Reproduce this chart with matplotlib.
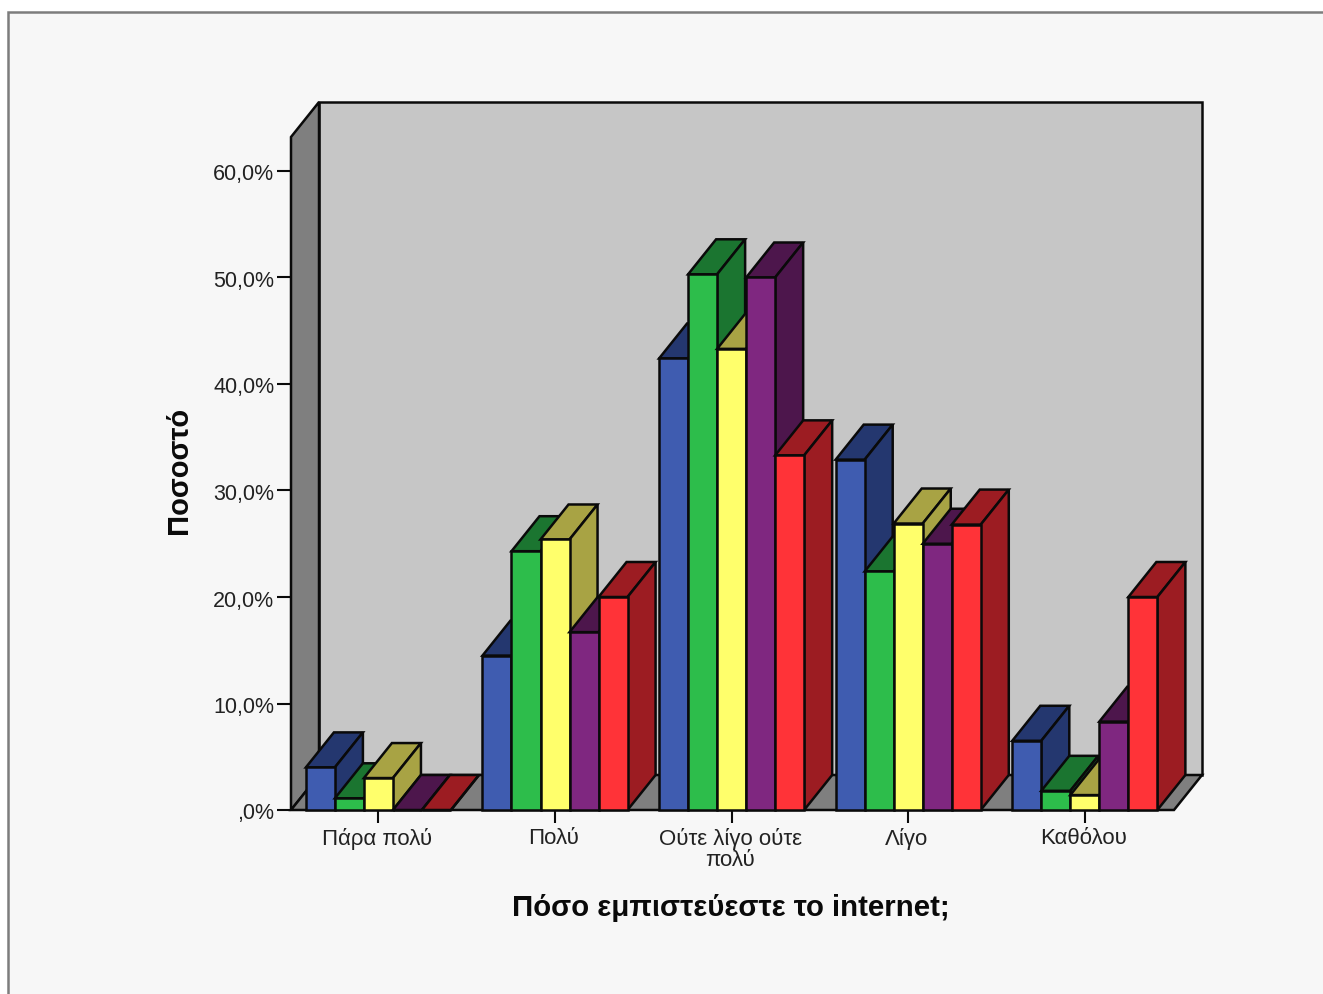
"""Clustered pseudo-3D bar chart: trust in the internet (SPSS style)."""
import matplotlib
matplotlib.use("Agg")
import matplotlib.pyplot as plt
from matplotlib.patches import Polygon, Rectangle
from matplotlib.transforms import ScaledTranslation

plt.rcParams["font.family"] = ["Liberation Sans", "DejaVu Sans"]

# ── Data ──────────────────────────────────────────────────────────────────────
categories = ["Πάρα πολύ", "Πολύ", "Ούτε λίγο ούτε\nπολύ", "Λίγο", "Καθόλου"]
blue_vals = [4.0, 14.5, 42.4, 32.9, 6.5]
green_vals = [1.1, 24.3, 50.3, 22.4, 1.8]
yellow_vals = [3.0, 25.4, 43.3, 26.9, 1.4]
purple_vals = [0.0, 16.7, 50.0, 25.0, 8.3]
red_vals = [0.0, 20.0, 33.3, 26.8, 20.0]
y_ticks = [0, 10, 20, 30, 40, 50, 60]
y_labels = [",0%", "10,0%", "20,0%", "30,0%", "40,0%", "50,0%", "60,0%"]

series = [
    (blue_vals, "#3f5cb0", "#24376f"),
    (green_vals, "#2dbd4b", "#1b7530"),
    (yellow_vals, "#ffff6b", "#a8a344"),
    (purple_vals, "#7f2780", "#4d164c"),
    (red_vals, "#ff3338", "#9c1c22"),
]

# ── Geometry (axis units) ─────────────────────────────────────────────────────
W, H = 1323, 994
BAR_W = 29 / 176.5
DX = 28 / 176.5   # depth offset along x
DY = 35 / 10.65   # depth offset along y, in percent
Y_TOP = 673 / 10.65
X_SHIFT = -0.005  # groups sit a hair left of the wall's centre lines
LW = 1.8

fig = plt.figure(figsize=(W / 100, H / 100), dpi=100, facecolor="white")

# chart frame, runs off the right and bottom of the picture
fig.add_artist(Rectangle((8 / W, -0.1), 1.1, 1.1 - 12 / H, transform=fig.transFigure,
                         facecolor="#f7f7f7", edgecolor="#7d7d7d", linewidth=1.8,
                         zorder=-1))

ax = fig.add_axes([291 / W, 1 - 810 / H, 883 / W, 673 / H])
ax.set_xlim(-0.5, 4.5)
ax.set_ylim(0, Y_TOP)
ax.patch.set_alpha(0)
for s in ax.spines.values():
    s.set_visible(False)


def face(pts, color):
    ax.add_patch(Polygon(pts, closed=True, facecolor=color, edgecolor="#0a0a0a",
                         linewidth=LW, joinstyle="miter", clip_on=False))


# walls and floor
x0, x1 = -0.5, 4.5
face([(x0 + DX, DY), (x1 + DX, DY), (x1 + DX, Y_TOP + DY), (x0 + DX, Y_TOP + DY)], "#c6c6c6")
face([(x0, 0), (x0 + DX, DY), (x0 + DX, Y_TOP + DY), (x0, Y_TOP)], "#7f7f7f")
face([(x0, 0), (x1, 0), (x1 + DX, DY), (x0 + DX, DY)], "#7f7f7f")


def bar3d(x, h, front, shade):
    r = x + BAR_W
    face([(x, h), (r, h), (r + DX, h + DY), (x + DX, h + DY)], shade)
    face([(r, 0), (r + DX, DY), (r + DX, h + DY), (r, h)], shade)
    face([(x, 0), (r, 0), (r, h), (x, h)], front)


# painted left to right so nearer neighbours cover the earlier sides
centers = [i + X_SHIFT for i in range(len(categories))]
for i, c in enumerate(centers):
    for j, (vals, front, shade) in enumerate(series):
        bar3d(c + (j - 2.5) * BAR_W, vals[i], front, shade)

ax.set_yticks(y_ticks, y_labels)
ax.set_xticks(centers, categories)
ax.tick_params(axis="y", length=10, width=1.5, pad=2, labelsize=15.5, colors="#222222")
ax.tick_params(axis="x", length=9.5, width=1.5, pad=3.5, labelsize=16, colors="#222222")
ax.tick_params(axis="both", color="#0a0a0a")

# labels sit a little left of / under their ticks
x_nudge = ScaledTranslation(-1.5 / 100, 0, fig.dpi_scale_trans)
for t in ax.get_xticklabels():
    t.set_linespacing(1.0)
    t.set_transform(t.get_transform() + x_nudge)
y_nudge = ScaledTranslation(0, -1.5 / 100, fig.dpi_scale_trans)
for t in ax.get_yticklabels():
    t.set_transform(t.get_transform() + y_nudge)

ax.set_xlabel("Πόσο εμπιστεύεστε το internet;", fontsize=21.2, fontweight="bold",
              color="#0a0a0a", va="center")
ax.xaxis.set_label_coords(0.498, -0.1455)
ax.set_ylabel("Ποσοστό", fontsize=21, fontweight="bold", color="#0a0a0a", va="center")
ax.yaxis.set_label_coords(-0.127, 0.5045)

fig.savefig("out.png", dpi=100, facecolor=fig.get_facecolor())
